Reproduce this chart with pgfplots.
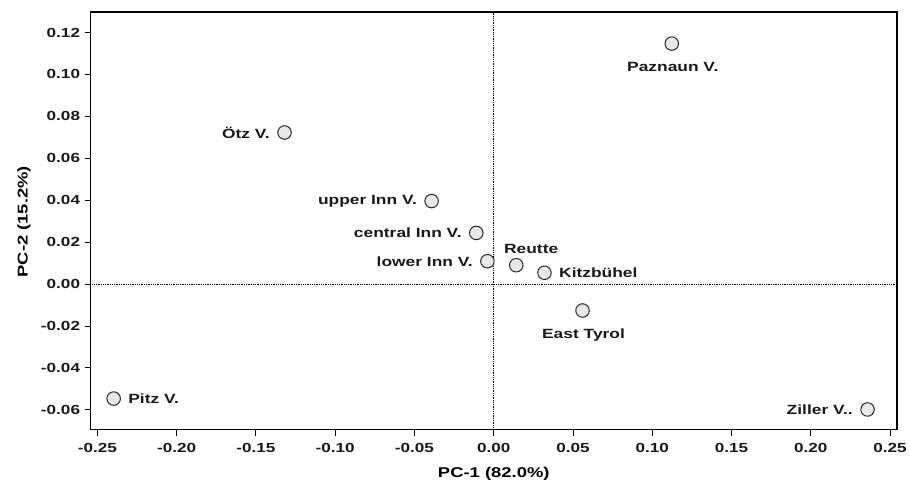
\documentclass[border=0pt]{standalone}
\usepackage{fontspec}
\setmainfont{Liberation Sans}[FakeStretch=1.3]
\usepackage{pgfplots}
\pgfplotsset{compat=1.18}
\begin{document}
\begin{tikzpicture}[x=1bp,y=1bp]
\begin{axis}[
  scale only axis,
  width=811bp, height=420bp,
  xmin=-0.2544, xmax=0.2544,
  ymin=-0.0694, ymax=0.1298,
  axis line style={line width=1.3bp, black},
  xtick={-0.25,-0.20,-0.15,-0.10,-0.05,0,0.05,0.10,0.15,0.20,0.25},
  xticklabels={-0.25,-0.20,-0.15,-0.10,-0.05,0.00,0.05,0.10,0.15,0.20,0.25},
  ytick={-0.06,-0.04,-0.02,0,0.02,0.04,0.06,0.08,0.10,0.12},
  yticklabels={-0.06,-0.04,-0.02,0.00,0.02,0.04,0.06,0.08,0.10,0.12},
  xtick pos=bottom, ytick pos=left,
  tick align=outside,
  major tick length=6bp,
  tick style={line width=1bp, black},
  tick label style={font=\bfseries\fontsize{13.3}{15}\selectfont, text=black!90},
  xticklabel style={yshift=-4bp},
  yticklabel style={xshift=-1bp},
  xlabel={PC-1 (82.0\%)},
  ylabel={PC-2 (15.2\%)},
  label style={font=\bfseries\fontsize{14.3}{17}\selectfont},
  xlabel style={at={(axis description cs:0.5,0)}, anchor=north, yshift=-34bp},
  ylabel style={at={(axis description cs:-0.07,0.4976)}, anchor=south},
  clip=false,
  pt/.style={only marks, mark=*, mark size=6.8bp,
    mark options={fill=gray!18, draw=black!85, line width=1bp},
    nodes near coords, point meta=explicit symbolic},
  every node near coord/.append style={font=\bfseries\fontsize{13.5}{15}\selectfont, text=black!90},
]
\draw[densely dotted, line width=0.8bp] (axis cs:0,-0.0694) -- (axis cs:0,0.1298);
\draw[densely dotted, line width=0.8bp] (axis cs:-0.2544,0) -- (axis cs:0.2544,0);
% labels to the left
\addplot[pt, nodes near coords style={anchor=east, xshift=-11bp}] table[meta=label] {
x y label
-0.132 0.0723 {Ötz V.}
-0.0392 0.0396 {upper Inn V.}
-0.011 0.0244 {central Inn V.}
-0.004 0.0109 {lower Inn V.}
0.2358 -0.0598 {Ziller V..}
};
% labels to the right
\addplot[pt, nodes near coords style={anchor=west, xshift=11bp}] table[meta=label] {
x y label
0.032 0.0054 {Kitzbühel}
-0.2398 -0.0546 {Pitz V.}
};
% labels below
\addplot[pt, nodes near coords style={anchor=north, yshift=-15bp, xshift=1bp}] table[meta=label] {
x y label
0.1123 0.1147 {Paznaun V.}
0.056 -0.0126 {East Tyrol}
};
% label above right
\addplot[pt, nodes near coords style={anchor=south, xshift=15bp, yshift=8bp}] table[meta=label] {
x y label
0.0142 0.0090 {Reutte}
};
\end{axis}
\path (current axis.south west) ++(-91bp,-58bp) coordinate (bl);
\path (current axis.north east) ++(8bp,12bp) coordinate (tr);
\path (bl) rectangle (tr);
\end{tikzpicture}
\end{document}
